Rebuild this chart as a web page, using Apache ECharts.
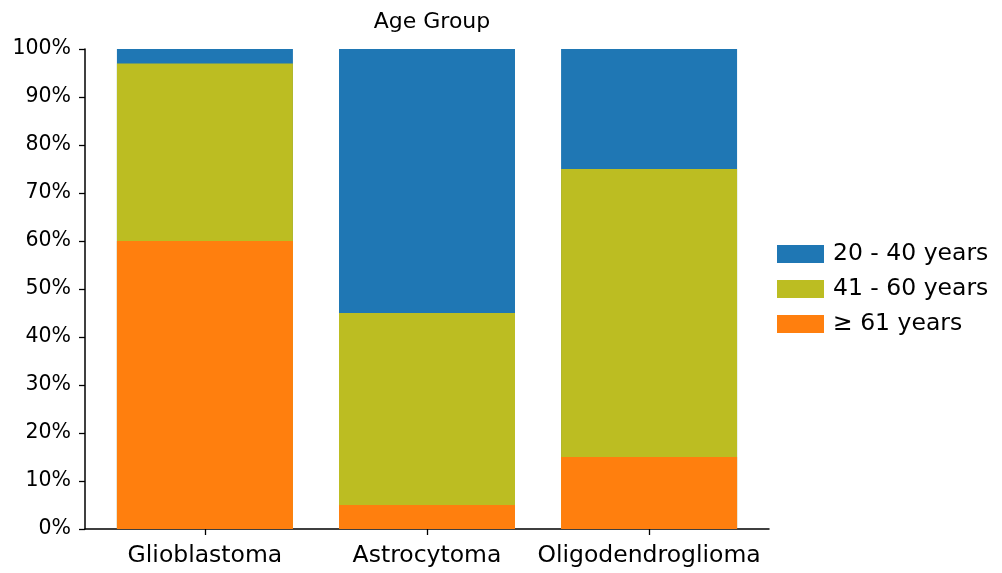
<!DOCTYPE html>
<html>
<head>
<meta charset="utf-8">
<script src="https://cdn.jsdelivr.net/npm/echarts@6/dist/echarts.min.js"></script>
<style>
  html, body { margin: 0; padding: 0; background: #fff; }
  #chart { width: 1002px; height: 573px; }
</style>
</head>
<body>
<div id="chart"></div>
<script>
const categories = ['Glioblastoma', 'Astrocytoma', 'Oligodendroglioma'];
const over61 = [60, 5, 15];
const age41to60 = [37, 40, 60];
const age20to40 = [3, 55, 25];
const yTicks = [0, 10, 20, 30, 40, 50, 60, 70, 80, 90, 100];

const font = 'DejaVu Sans';

// bars are drawn overlapping, tallest first, so each shows as a stacked segment
const sumOf = (...lists) => lists[0].map((_, i) => lists.reduce((s, l) => s + l[i], 0));
const pairs = (vals) => vals.map((v, i) => [i, v]);

const chart = echarts.init(document.getElementById('chart'));
const bar = (name, vals, color) => ({
  name,
  type: 'bar',
  data: pairs(vals),
  barWidth: 176,
  barGap: '-100%',
  itemStyle: { color },
  emphasis: { disabled: true },
});

chart.setOption({
  animation: false,
  title: {
    text: 'Age Group',
    left: 427,
    textAlign: 'center',
    top: 6,
    textStyle: { fontFamily: font, fontSize: 22, fontWeight: 'normal', color: '#000' },
  },
  legend: {
    orient: 'vertical',
    left: 772,
    top: 237,
    itemWidth: 47,
    itemHeight: 18,
    itemGap: 11,
    icon: 'rect',
    data: ['20 - 40 years', '41 - 60 years', '≥ 61 years'],
    textStyle: { fontFamily: font, fontSize: 23.5, color: '#000', padding: [0, 0, 0, 4] },
  },
  grid: { left: 85, right: 233, top: 49, bottom: 44 },
  xAxis: {
    type: 'value',
    min: -0.54,
    max: 2.54,
    splitLine: { show: false },
    axisLine: { show: true, lineStyle: { color: '#000', width: 1.5 } },
    axisTick: {
      show: true,
      length: 6,
      customValues: [0, 1, 2],
      lineStyle: { color: '#000', width: 1.3 },
    },
    axisLabel: {
      customValues: [0, 1, 2],
      formatter: (v) => categories[Math.round(v)],
      fontFamily: font,
      fontSize: 23.5,
      color: '#000',
      margin: 15,
    },
  },
  yAxis: {
    type: 'value',
    min: 0,
    max: 100,
    interval: 10,
    splitLine: { show: false },
    axisLine: { show: true, onZero: false, lineStyle: { color: '#000', width: 1.5 } },
    axisTick: { show: true, length: 6, lineStyle: { color: '#000', width: 1.3 } },
    axisLabel: {
      formatter: (v) => (yTicks.includes(v) ? v + '%' : ''),
      fontFamily: font,
      fontSize: 20.5,
      color: '#000',
      margin: 14,
    },
  },
  series: [
    bar('20 - 40 years', sumOf(over61, age41to60, age20to40), '#1f77b4'),
    bar('41 - 60 years', sumOf(over61, age41to60), '#bcbd22'),
    bar('≥ 61 years', over61, '#ff7f0e'),
  ],
});
</script>
</body>
</html>
